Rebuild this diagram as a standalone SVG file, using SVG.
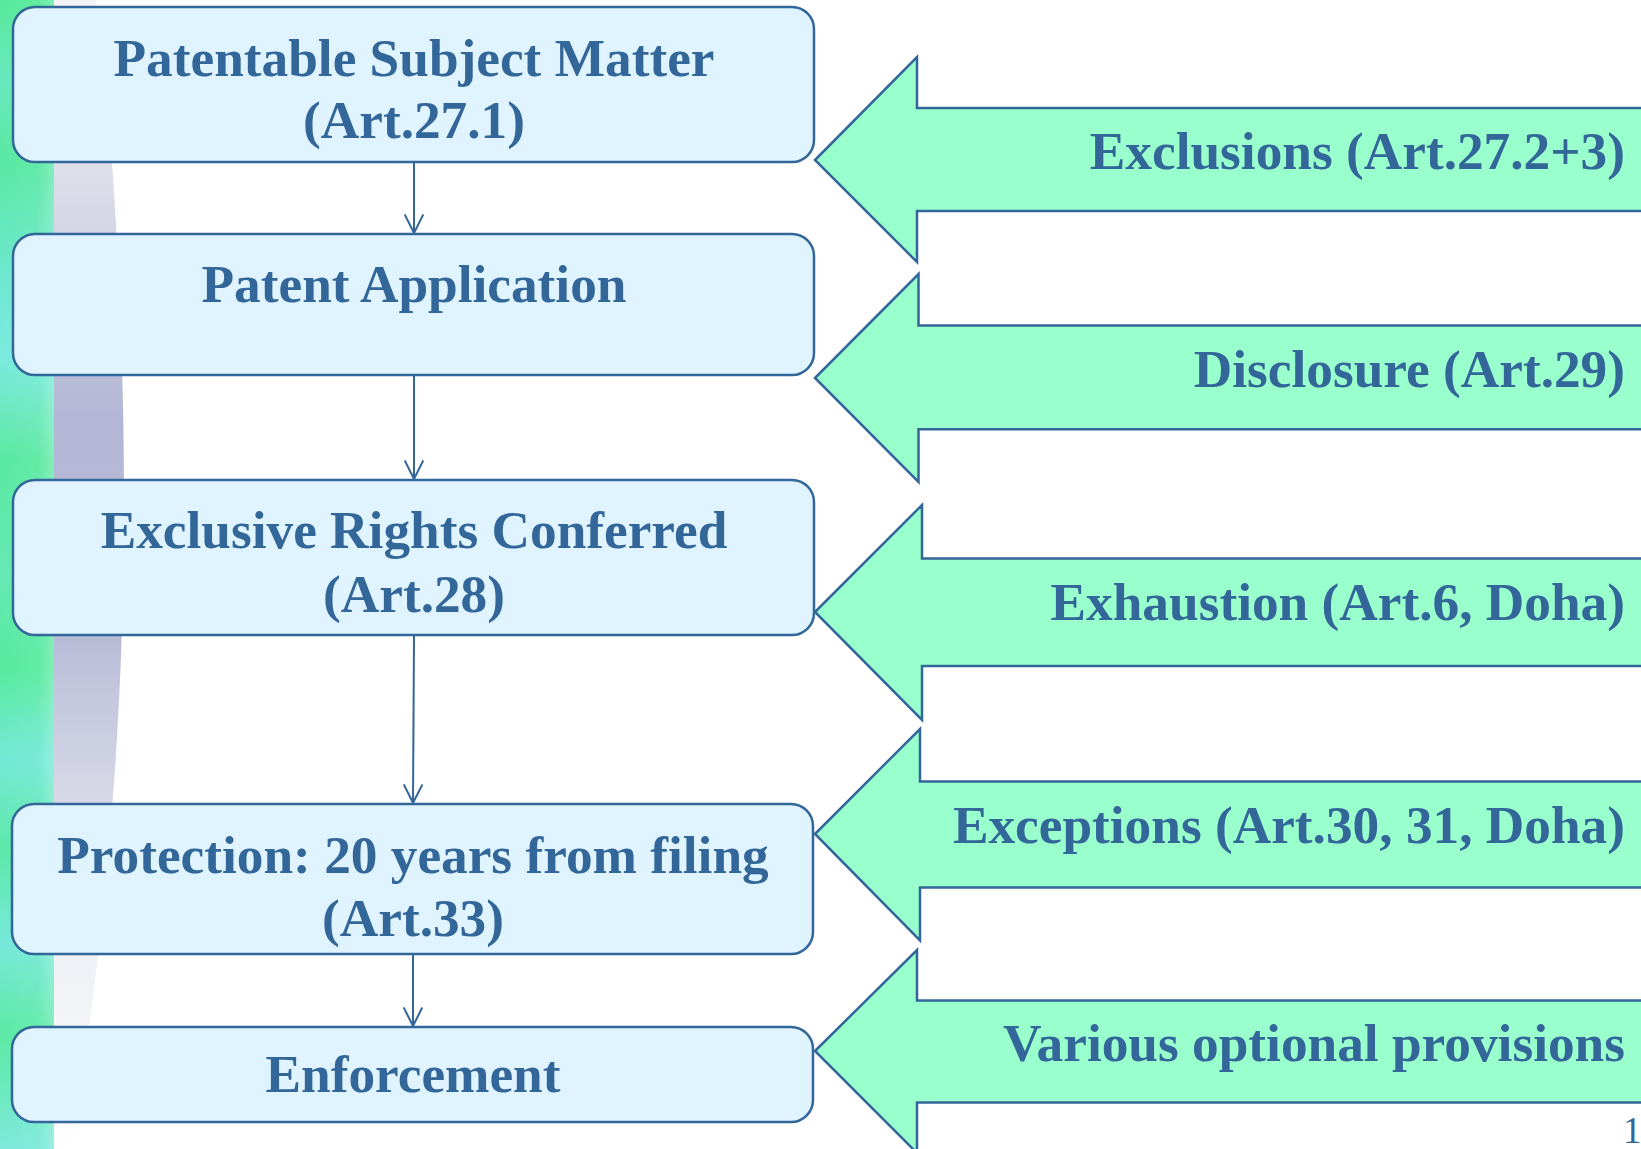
<svg xmlns="http://www.w3.org/2000/svg" width="1641" height="1149" viewBox="0 0 1641 1149">
  <defs>
    <style>
      .box { fill: #DFF4FE; stroke: #336699; stroke-width: 2.5; }
      .big { fill: #99FFCC; stroke: #336699; stroke-width: 2.5; stroke-linejoin: miter; }
      .lbl { font-family: "Liberation Serif", "Times New Roman", serif; font-weight: bold; font-size: 53.3px; fill: #336699; }
      .mid { text-anchor: middle; }
      .end { text-anchor: end; }
      .conn { stroke: #336699; stroke-width: 2; fill: none; }
    </style>
    <marker id="vee" viewBox="0 0 20 20" refX="19" refY="10" markerWidth="20" markerHeight="20" markerUnits="userSpaceOnUse" orient="auto">
      <path d="M0.5,0.7 L19,10 L0.5,19.3" fill="none" stroke="#336699" stroke-width="2"/>
    </marker>
    <linearGradient id="strip" x1="0" y1="0" x2="0" y2="1">
      <stop offset="0" stop-color="#58E99A"/>
      <stop offset="0.07" stop-color="#66E9BE"/>
      <stop offset="0.14" stop-color="#5AE8A2"/>
      <stop offset="0.24" stop-color="#6DE8CF"/>
      <stop offset="0.31" stop-color="#7BEADF"/>
      <stop offset="0.4" stop-color="#5BE9A0"/>
      <stop offset="0.5" stop-color="#63E9B4"/>
      <stop offset="0.58" stop-color="#58EA9C"/>
      <stop offset="0.66" stop-color="#72E9D6"/>
      <stop offset="0.74" stop-color="#5DE8A8"/>
      <stop offset="0.82" stop-color="#76E9DA"/>
      <stop offset="0.9" stop-color="#5CE9A4"/>
      <stop offset="1" stop-color="#7CEADB"/>
    </linearGradient>
    <linearGradient id="stripH" x1="0" y1="0" x2="1" y2="0">
      <stop offset="0" stop-color="#FFFFFF" stop-opacity="0"/>
      <stop offset="0.7" stop-color="#FFFFFF" stop-opacity="0.05"/>
      <stop offset="1" stop-color="#FFFFFF" stop-opacity="0.25"/>
    </linearGradient>
    <linearGradient id="band" x1="0" y1="0" x2="0" y2="1">
      <stop offset="0" stop-color="#F4F4F7"/>
      <stop offset="0.17" stop-color="#DADBE8"/>
      <stop offset="0.36" stop-color="#B3B7D5"/>
      <stop offset="0.55" stop-color="#B8BBD7"/>
      <stop offset="0.67" stop-color="#D2D4E5"/>
      <stop offset="0.82" stop-color="#EEEFF4"/>
      <stop offset="1" stop-color="#FFFFFF"/>
    </linearGradient>
  </defs>

  <rect x="0" y="0" width="1641" height="1149" fill="#FFFFFF"/>

  <g id="background">
    <path d="M54,0 L96,0 C110,100 124,300 124,500 C124,700 110,900 72,1149 L54,1149 Z" fill="url(#band)"/>
    <rect x="0" y="0" width="54" height="1149" fill="url(#strip)"/>
    <rect x="0" y="0" width="54" height="1149" fill="url(#stripH)"/>
  </g>

  <g id="connectors">
    <line class="conn" x1="414" y1="163" x2="414" y2="233" marker-end="url(#vee)"/>
    <line class="conn" x1="414" y1="376" x2="414" y2="479" marker-end="url(#vee)"/>
    <line class="conn" x1="414" y1="636" x2="413" y2="803" marker-end="url(#vee)"/>
    <line class="conn" x1="413" y1="955" x2="413" y2="1026" marker-end="url(#vee)"/>
  </g>

  <g id="node-subject">
    <rect class="box" x="13" y="7" width="801" height="155" rx="22" ry="22"/>
    <text class="lbl mid" x="414" y="75.5">Patentable Subject Matter</text>
    <text class="lbl mid" x="414" y="138">(Art.27.1)</text>
  </g>

  <g id="node-application">
    <rect class="box" x="13" y="234" width="801" height="141" rx="22" ry="22"/>
    <text class="lbl mid" x="414" y="302">Patent Application</text>
  </g>

  <g id="node-rights">
    <rect class="box" x="13" y="480" width="801" height="155" rx="22" ry="22"/>
    <text class="lbl mid" x="414" y="548">Exclusive Rights Conferred</text>
    <text class="lbl mid" x="414" y="612">(Art.28)</text>
  </g>

  <g id="node-protection">
    <rect class="box" x="12" y="804" width="801" height="150" rx="22" ry="22"/>
    <text class="lbl mid" x="413" y="873">Protection: 20 years from filing</text>
    <text class="lbl mid" x="413" y="936">(Art.33)</text>
  </g>

  <g id="node-enforcement">
    <rect class="box" x="12" y="1027" width="801" height="95" rx="22" ry="22"/>
    <text class="lbl mid" x="413" y="1092">Enforcement</text>
  </g>

  <g id="arrow-exclusions">
    <polygon class="big" points="815,160 917,57 917,108 1650,108 1650,211 917,211 917,262"/>
    <text class="lbl end" x="1625" y="169">Exclusions (Art.27.2+3)</text>
  </g>

  <g id="arrow-disclosure">
    <polygon class="big" points="815,378 918.5,274 918.5,325.5 1650,325.5 1650,429.3 918.5,429.3 918.5,482"/>
    <text class="lbl end" x="1625" y="387">Disclosure (Art.29)</text>
  </g>

  <g id="arrow-exhaustion">
    <polygon class="big" points="815,612 922,505 922,558.5 1650,558.5 1650,666 922,666 922,720"/>
    <text class="lbl end" x="1625" y="619.5">Exhaustion (Art.6, Doha)</text>
  </g>

  <g id="arrow-exceptions">
    <polygon class="big" points="815,834 920,729 920,781.5 1650,781.5 1650,887.5 920,887.5 920,940.5"/>
    <text class="lbl end" x="1625" y="842.5">Exceptions (Art.30, 31, Doha)</text>
  </g>

  <g id="arrow-optional">
    <polygon class="big" points="815,1051 917,950 917,1000.5 1650,1000.5 1650,1102.5 917,1102.5 917,1153"/>
    <text class="lbl end" x="1625" y="1061">Various optional provisions</text>
  </g>

  <text x="1623" y="1143" font-family="Liberation Serif, 'Times New Roman', serif" font-size="37px" fill="#336699">1</text>
</svg>
